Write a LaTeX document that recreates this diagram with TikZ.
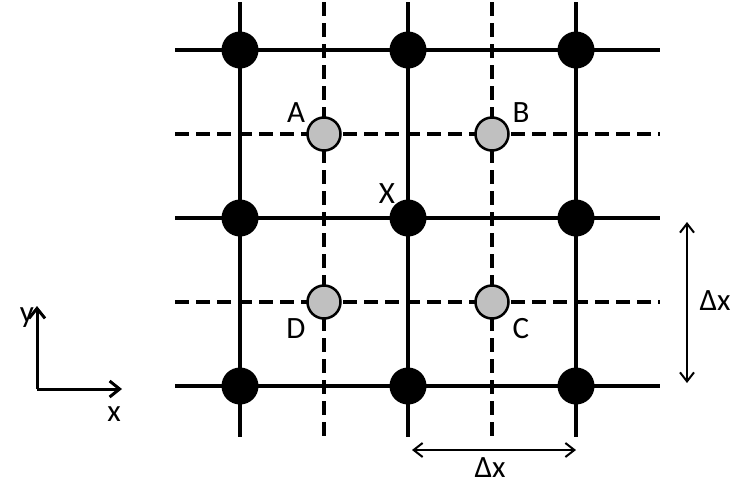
\documentclass[tikz,border=0pt]{standalone}
\usepackage{fontspec}
\setmainfont{Carlito}
\usetikzlibrary{arrows.meta}
\definecolor{ltgray}{RGB}{192,192,192}
\begin{document}
\begin{tikzpicture}[x=1pt,y=-1pt,
  solidline/.style={line width=3.2pt},
  dashline/.style={line width=3.2pt, dash pattern=on 14pt off 7pt},
  bdot/.style={circle, fill=black, minimum size=37pt, inner sep=0pt},
  gdot/.style={circle, fill=ltgray, draw=black, line width=2.5pt, minimum size=33pt, inner sep=0pt},
  lbl/.style={font=\fontsize{31}{31}\selectfont, inner sep=0pt},
  barb/.tip={Straight Barb[length=9pt,width=14pt]},
  dimarrow/.style={line width=2pt, barb-barb},
  axisarrow/.style={line width=3pt, -{Straight Barb[length=10pt,width=16pt]}}
]
\useasboundingbox (0,0) rectangle (733,485);
% frame coordinates
\foreach \n/\x in {c1/240, c2/408, c3/576, d1/324, d2/492} {
  \coordinate (\n t) at (\x,2);
  \coordinate (\n b) at (\x,437);
}
\foreach \n/\y in {r1/50, r2/218, r3/386, e1/134, e2/302} {
  \coordinate (\n l) at (175,\y);
  \coordinate (\n r) at (660,\y);
}
% dashed lines
\draw[dashline] (d1t) -- (d1b);
\draw[dashline] (d2t) -- (d2b);
\draw[dashline] (e1l) -- (e1r);
\draw[dashline] (e2l) -- (e2r);
% solid lines
\draw[solidline] (c1t) -- (c1b);
\draw[solidline] (c2t) -- (c2b);
\draw[solidline] (c3t) -- (c3b);
\draw[solidline] (r1l) -- (r1r);
\draw[solidline] (r2l) -- (r2r);
\draw[solidline] (r3l) -- (r3r);
% black nodes
\node[bdot] (n11) at (240,50) {};
\node[bdot] (n12) at (408,50) {};
\node[bdot] (n13) at (576,50) {};
\node[bdot] (n21) at (240,218) {};
\node[bdot] (X) at (408,218) {};
\node[bdot] (n23) at (576,218) {};
\node[bdot] (n31) at (240,386) {};
\node[bdot] (n32) at (408,386) {};
\node[bdot] (n33) at (576,386) {};
% gray nodes
\node[gdot] (A) at (324,134) {};
\node[gdot] (B) at (492,134) {};
\node[gdot] (D) at (324,302) {};
\node[gdot] (C) at (492,302) {};
% labels
\node[lbl] (lA) at (296,113) {A};
\node[lbl] (lB) at (521,113) {B};
\node[lbl] (lX) at (387,194) {X};
\node[lbl] (lD) at (296,329) {D};
\node[lbl] (lC) at (521,329) {C};
% axes
\coordinate (o) at (37,389);
\coordinate (ytip) at (37,306);
\coordinate (xtip) at (122,389);
\draw[axisarrow] (o) -- (ytip);
\draw[axisarrow] (o) -- (xtip);
\node[lbl, anchor=base] (ly) at (27,322) {y};
\node[lbl, anchor=base] (lx) at (114,421) {x};
% dimension arrows
\coordinate (h1) at (412,450);
\coordinate (h2) at (576,450);
\draw[dimarrow] (h1) -- (h2);
\node[lbl, anchor=base] (ldx1) at (490,477) {Δx};
\coordinate (v1) at (687,222);
\coordinate (v2) at (687,383);
\draw[dimarrow] (v1) -- (v2);
\node[lbl, anchor=base] (ldx2) at (715,310) {Δx};
\end{tikzpicture}
\end{document}
